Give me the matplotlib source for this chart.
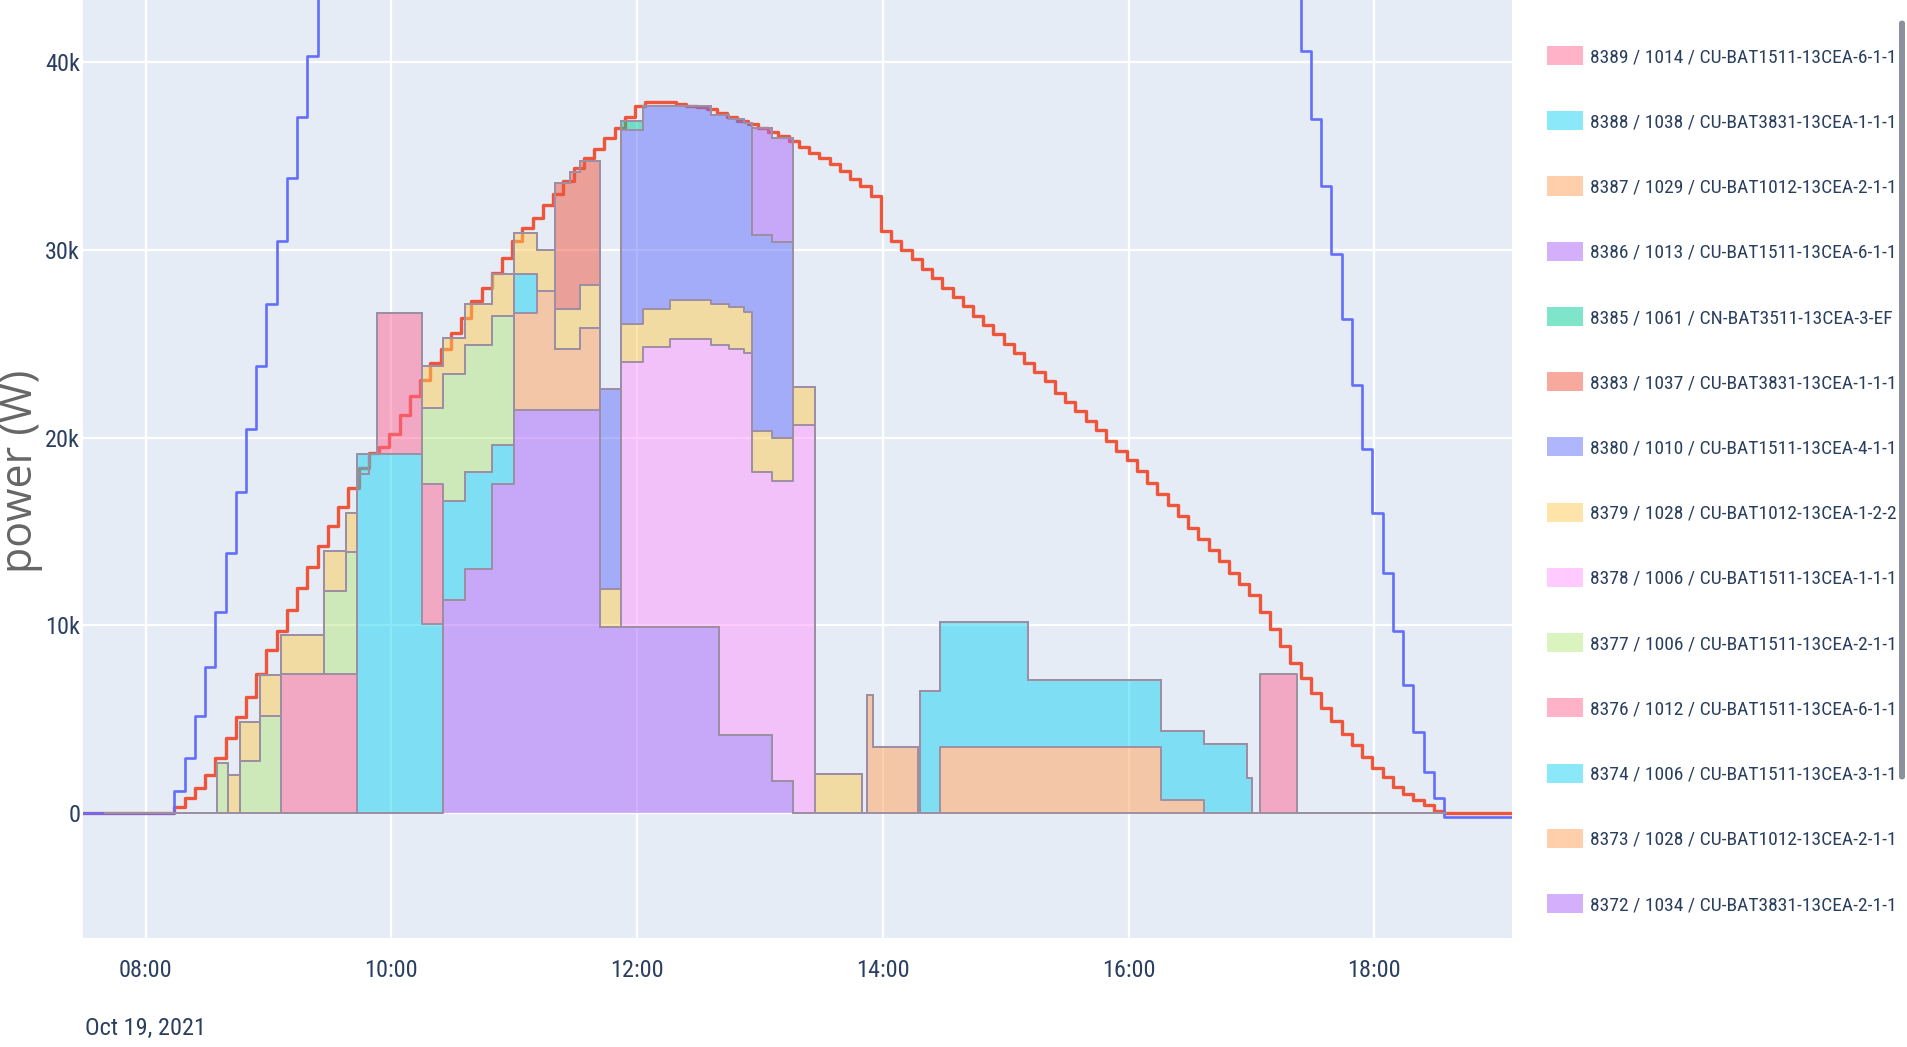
import numpy as np
import matplotlib.pyplot as plt
from matplotlib.patches import Patch, FancyBboxPatch
from matplotlib.ticker import FuncFormatter
from matplotlib.transforms import blended_transform_factory

plt.rcParams['font.family'] = ['Roboto Condensed', 'Roboto', 'DejaVu Sans']

# batteries, bottom of the stack first
battery_labels = [
    '8372 / 1034 / CU-BAT3831-13CEA-2-1-1',
    '8373 / 1028 / CU-BAT1012-13CEA-2-1-1',
    '8374 / 1006 / CU-BAT1511-13CEA-3-1-1',
    '8376 / 1012 / CU-BAT1511-13CEA-6-1-1',
    '8377 / 1006 / CU-BAT1511-13CEA-2-1-1',
    '8378 / 1006 / CU-BAT1511-13CEA-1-1-1',
    '8379 / 1028 / CU-BAT1012-13CEA-1-2-2',
    '8380 / 1010 / CU-BAT1511-13CEA-4-1-1',
    '8383 / 1037 / CU-BAT3831-13CEA-1-1-1',
    '8385 / 1061 / CN-BAT3511-13CEA-3-EF',
    '8386 / 1013 / CU-BAT1511-13CEA-6-1-1',
    '8387 / 1029 / CU-BAT1012-13CEA-2-1-1',
    '8388 / 1038 / CU-BAT3831-13CEA-1-1-1',
    '8389 / 1014 / CU-BAT1511-13CEA-6-1-1',
]
battery_colors = ['#AB63FA', '#FFA15A', '#19D3F3', '#FF6692', '#B6E880', '#FF97FF', '#FECB52',
                  '#636EFA', '#EF553B', '#00CC96', '#AB63FA', '#FFA15A', '#19D3F3', '#FF6692']

# charging power of each battery: time it changes -> new power (W)
p8372_t = ['10:25', '10:36', '10:49', '11:00', '11:42', '12:40', '13:06', '13:16']
p8372_w = [11350, 13000, 17550, 21500, 9900, 4150, 1700, 0]
p8373_t = ['11:00', '11:11', '11:20', '11:32', '11:42', '13:52', '13:55', '14:17', '14:28', '16:16', '16:37']
p8373_w = [5150, 6300, 3250, 4350, 0, 6300, 3500, 0, 3500, 700, 0]
p8374_t = ['09:43', '09:49', '10:15', '10:25', '10:36', '10:49', '11:11', '14:18', '14:28', '15:11',
           '16:16', '16:58', '17:00']
p8374_w = [18050, 19150, 10050, 5250, 5150, 2050, 0, 6500, 6650, 3600, 3650, 1850, 0]
p8376_t = ['09:06', '09:43', '09:53', '10:25']
p8376_w = [7400, 0, 7500, 0]
p8377_t = ['08:35', '08:40', '08:46', '08:56', '09:06', '09:27', '09:38', '09:43', '10:15', '10:25',
           '10:49', '11:00']
p8377_w = [2650, 0, 2750, 5150, 0, 4450, 6500, 0, 4050, 6800, 6900, 0]
p8378_t = ['11:52', '12:03', '12:16', '12:36', '12:40', '12:45', '12:52', '12:56', '13:06', '13:16', '13:27']
p8378_w = [14150, 14950, 15350, 15050, 20800, 20600, 20350, 14000, 16000, 20700, 0]
p8379_t = ['08:40', '08:46', '08:56', '09:06', '09:43', '10:15', '10:25', '10:36', '11:20', '11:32',
           '11:42', '11:52', '12:16', '12:36', '13:06', '13:16', '13:27', '13:50']
p8379_w = [2000, 2100, 2200, 2100, 0, 2200, 1900, 2200, 2100, 2300, 2050, 2000, 2100, 2200, 2300,
           2000, 2050, 0]
p8380_t = ['11:42', '11:52', '12:03', '12:16', '12:36', '12:56', '13:16']
p8380_w = [10650, 10350, 10850, 10350, 10050, 10450, 0]
p8383_t = ['11:20', '11:27', '11:32', '11:42']
p8383_w = [6700, 7300, 6600, 0]
p8385_t = ['11:52', '12:03']
p8385_w = [500, 0]
p8386_t = ['12:56', '13:06', '13:16']
p8386_w = [5700, 5550, 0]
p8387_t = ['07:40']
p8387_w = [0]
p8388_t = ['09:43', '09:49']
p8388_w = [1100, 0]
p8389_t = ['17:04', '17:22']
p8389_w = [7400, 0]

stack_start, stack_end = '07:40', '18:35'

# PV power, one value every 5 minutes from 08:14 (W)
pv_start = '08:14'
pv_w = [300, 800, 1300, 2000, 2900, 4000, 5100, 6200, 7400, 8700, 9700, 10800,
        12000, 13100, 14200, 15300, 16300, 17300, 18400, 19200, 19500, 20200, 21200, 22200,
        23100, 24000, 24700, 25600, 26400, 27300, 28000, 28800, 29600, 30500, 31200, 31700,
        32400, 33000, 33700, 34400, 34900, 35400, 36000, 36500, 37100, 37700, 37900, 37900,
        37900, 37800, 37700, 37600, 37500, 37300, 37100, 36900, 36700, 36500, 36300, 36100,
        35800, 35500, 35200, 34900, 34600, 34200, 33800, 33400, 32900, 31000, 30500, 30000,
        29500, 29000, 28500, 28000, 27500, 27000, 26500, 26000, 25500, 25000, 24500, 24000,
        23500, 23000, 22400, 21900, 21400, 20900, 20400, 19800, 19300, 18800, 18200, 17600,
        17000, 16400, 15800, 15200, 14600, 14000, 13400, 12800, 12200, 11600, 10700, 9800,
        8900, 8000, 7200, 6400, 5600, 4900, 4200, 3600, 3000, 2400, 1900, 1400,
        1000, 700, 400, 100, 0]

# limit line, one value every 5 minutes (rise in the morning, fall in the evening)
limit_rise_start = '08:09'
limit_rise_w = [0, 1150, 2900, 5150, 7750, 10700, 13850, 17100, 20450, 23800, 27150, 30500,
                33850, 37100, 40350, 43600, 46900]
limit_fall_start = '17:19'
limit_fall_w = [44200, 40600, 37000, 33400, 29800, 26300, 22800, 19400, 16000, 12800, 9700,
                6800, 4300, 2200, 800, -200]

line_start, line_end = '07:28', '19:08'


def hours(s):
    h, m = s.split(':')
    return int(h) + int(m) / 60


def step_values(times, watts, grid):
    t = np.array([hours(s) for s in times])
    idx = np.searchsorted(t, grid, side='right') - 1
    return np.where(idx >= 0, np.array(watts)[np.clip(idx, 0, None)], 0)


def every_5min(start, n):
    return hours(start) + np.arange(n) * 5 / 60


series = [(p8372_t, p8372_w), (p8373_t, p8373_w), (p8374_t, p8374_w), (p8376_t, p8376_w),
          (p8377_t, p8377_w), (p8378_t, p8378_w), (p8379_t, p8379_w), (p8380_t, p8380_w),
          (p8383_t, p8383_w), (p8385_t, p8385_w), (p8386_t, p8386_w), (p8387_t, p8387_w),
          (p8388_t, p8388_w), (p8389_t, p8389_w)]

grid = sorted({hours(s) for ts, _ in series for s in ts} | {hours(stack_start), hours(stack_end)})
grid = np.array(grid)

fig = plt.figure(figsize=(19.07, 10.47), dpi=100)
ax = fig.add_axes([83 / 1907, 1 - 938 / 1047, 1429 / 1907, 938 / 1047])
ax.set_facecolor('#E5ECF6')

# lines under the stack
t0, t1 = hours(line_start), hours(line_end)
pv_t = every_5min(pv_start, len(pv_w))
ax.step(np.r_[t0, pv_t, t1], np.r_[0, pv_w, pv_w[-1]], where='post',
        color='#EF553B', lw=2.4, zorder=2)
lim_t = np.r_[every_5min(limit_rise_start, len(limit_rise_w)),
              every_5min(limit_fall_start, len(limit_fall_w))]
lim_w = np.r_[limit_rise_w, limit_fall_w]
ax.step(np.r_[t0, lim_t, t1], np.r_[0, lim_w, lim_w[-1]], where='post',
        color='#636EFA', lw=1.9, zorder=2)

bottom = np.zeros(len(grid))
for (ts, ws), color in zip(series, battery_colors):
    top = bottom + step_values(ts, ws, grid)
    ax.fill_between(grid, bottom, top, step='post', color=color, alpha=0.5, lw=0, zorder=3)
    ax.step(grid, top, where='post', color='#9d8fa3', lw=1.4, zorder=4)
    bottom = top

ax.set_xlim(7.49, 19.12)
ax.set_ylim(-6670, 43330)
ax.set_xticks([8, 10, 12, 14, 16, 18])
ax.set_xticklabels(['08:00', '10:00', '12:00', '14:00', '16:00', '18:00'])
ax.set_yticks([0, 10000, 20000, 30000, 40000])
ax.yaxis.set_major_formatter(FuncFormatter(lambda v, p: '0' if v == 0 else f'{int(v / 1000)}k'))
ax.tick_params(length=0, labelsize=17.5, colors='#2a3f5f')
ax.tick_params(axis='x', pad=15)
ax.tick_params(axis='y', pad=2)
ax.grid(color='white', lw=1.6)
ax.set_axisbelow(True)
for s in ax.spines.values():
    s.set_visible(False)

trans = blended_transform_factory(ax.transData, ax.transAxes)
ax.text(8, -0.096, 'Oct 19, 2021', transform=trans, ha='center', va='center',
        fontsize=17.5, color='#2a3f5f')

fig.text(21 / 1907, 1 - 471 / 1047, 'power (W)', rotation=90, ha='center', va='center',
         fontsize=31, color='#666666', family=['Open Sans', 'DejaVu Sans'])

handles = [Patch(facecolor=c, alpha=0.5, edgecolor='none') for c in battery_colors][::-1]
ax.legend(handles, battery_labels[::-1], loc='upper left', bbox_to_anchor=(1547 / 1907, 1 - 46 / 1047),
          bbox_transform=fig.transFigure, frameon=False, fontsize=14, handlelength=1.85,
          handleheight=1.13, handletextpad=0.36, labelspacing=2.32, borderpad=0, borderaxespad=0,
          labelcolor='#2a3f5f')

fig.patches.append(FancyBboxPatch((1899 / 1907, 1 - 780 / 1047), 6 / 1907, 760 / 1047,
                                  boxstyle='round,pad=0,rounding_size=0.003',
                                  transform=fig.transFigure, facecolor='#8a909c', edgecolor='none'))

fig.savefig('out.png', dpi=100, facecolor='white')
